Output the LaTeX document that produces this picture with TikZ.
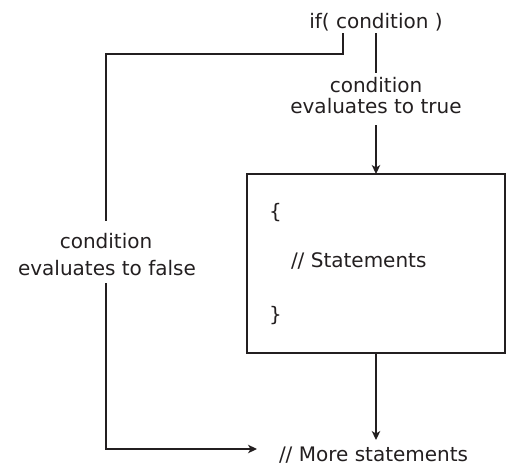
\documentclass[tikz,border=0pt]{standalone}
\usepackage{fontspec}
\setmainfont{DejaVu Sans}
\usetikzlibrary{arrows.meta}
\definecolor{ink}{RGB}{35,31,32}
\begin{document}
\begin{tikzpicture}[x=1pt,y=-1pt,
  every node/.style={inner sep=0pt,outer sep=0pt,text=ink},
  lbl/.style={font=\fontsize{20}{21}\selectfont},
  lblwide/.style={font=\fontsize{20}{27}\selectfont},
  conn/.style={draw=ink,line width=1.2pt},
  arr/.style={conn,-{Stealth[length=9pt,width=8.5pt,inset=2.5pt]}},
  codebox/.style={draw=ink,line width=1.2pt,minimum width=258pt,minimum height=179pt}]
  \useasboundingbox (0,0) rectangle (507,466);

  % condition header
  \node[lbl,anchor=base] (ifn) at (376,28) {if( condition )};
  \coordinate (ifL) at (343,33);
  \coordinate (ifR) at (376,33);

  % true branch
  \coordinate (trueTop) at (376,73);
  \coordinate (trueBot) at (376,125);
  \node[lbl,anchor=base] (true1) at (376,92) {condition};
  \node[lbl,anchor=base] (true2) at (376,113) {evaluates to true};

  % body of the if
  \node[codebox] (body) at (376,263.5) {};
  \node[lbl,anchor=base west] (open) at (269,218) {\{};
  \node[lbl,anchor=base west] (stmts) at (291,267) {// Statements};
  \node[lbl,anchor=base west] (close) at (269,321) {\}};

  % false branch
  \coordinate (fTurn) at (343,54);
  \coordinate (fCorner) at (106,54);
  \coordinate (fTop) at (106,221);
  \coordinate (fBot) at (106,283);
  \coordinate (fLow) at (106,449);
  \coordinate (fEnd) at (257,449);
  \node[lbl,anchor=base] (false1) at (106,248) {condition};
  \node[lbl,anchor=base] (false2) at (107,275) {evaluates to false};

  % following code
  \node[lbl,anchor=base west] (more) at (279,461) {// More statements};
  \coordinate (moreTop) at (376,440);

  % connectors
  \draw[conn] (ifR) -- (trueTop);
  \draw[arr] (trueBot) -- (body.north);
  \draw[arr] (body.south) -- (moreTop);
  \draw[conn] (ifL) -- (fTurn) -- (fCorner) -- (fTop);
  \draw[arr] (fBot) -- (fLow) -- (fEnd);
\end{tikzpicture}
\end{document}
